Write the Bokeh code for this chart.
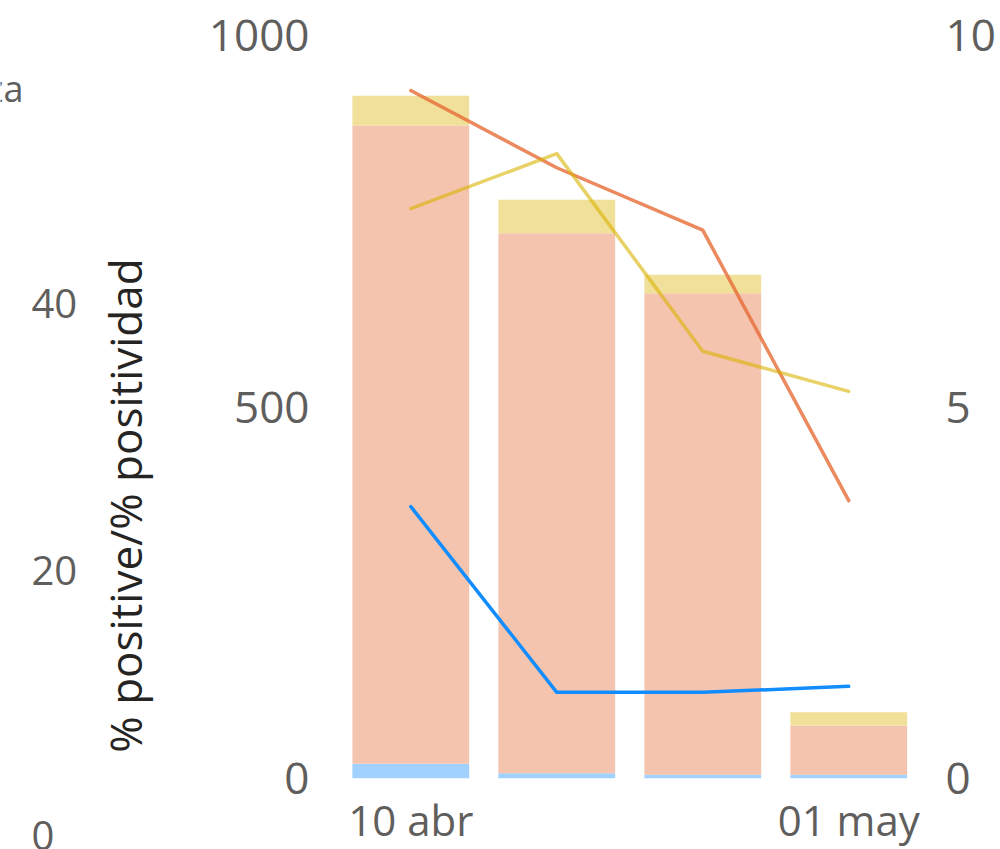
import math
from bokeh.plotting import figure
from bokeh.models import Range1d, LinearAxis, FixedTicker, ColumnDataSource
from bokeh.layouts import row, column
from bokeh.core.properties import value
from bokeh.embed import file_html
from bokeh.resources import INLINE

# ---------------- data ----------------
weeks = ["10 abr", "17 abr", "24 abr", "01 may"]
shown_weeks = ["10 abr", "01 may"]
bar_blue = [20, 7, 5, 5]
bar_salmon = [859, 727, 648, 66]
bar_yellow = [40, 45, 25, 18]
line_orange = [9.26, 8.22, 7.38, 3.74]
line_yellow = [7.67, 8.41, 5.75, 5.21]
line_blue = [3.66, 1.16, 1.16, 1.24]
left_ticks = [0, 20, 40]
mid_ticks = [0, 500, 1000]
right_ticks = [0, 5, 10]
left_title = "% positive/% positividad"
cut_text = "za"

FONT = "Open Sans"
TICK_COLOR = "#605E5C"
TITLE_COLOR = "#252423"

def clean(fig):
    fig.frame_align = False
    fig.outline_line_color = None
    fig.grid.visible = False
    fig.background_fill_color = "white"
    fig.border_fill_color = "white"

# ---------------- cut-off text at the top left ----------------
pt = figure(frame_width=80, frame_height=120, output_backend="svg", toolbar_location=None,
            x_range=Range1d(0, 80), y_range=Range1d(0, 120),
            x_axis_location=None, y_axis_location=None, min_border=0)
clean(pt)
pt.text(x=[23], y=[32], text=[cut_text], text_align="right", text_baseline="alphabetic",
        text_font=value(FONT), text_font_size="36px", text_color=TICK_COLOR)

# ---------------- left panel (only its right axis is visible) ----------------
pl = figure(frame_width=22, frame_height=666, output_backend="svg", toolbar_location=None,
            x_range=Range1d(0, 1), y_range=Range1d(0, 49.78),
            x_axis_location=None, y_axis_location="right",
            min_border_left=0, min_border_right=58,
            min_border_top=52, min_border_bottom=11)
clean(pl)
ya = pl.yaxis[0]
ya.ticker = FixedTicker(ticks=left_ticks)
ya.major_label_text_font = FONT
ya.major_label_text_font_size = "40px"
ya.major_label_text_color = TICK_COLOR
ya.major_label_standoff = 3
ya.major_tick_line_color = None
ya.minor_tick_line_color = None
ya.axis_line_color = None

# ---------------- title of the left axis ----------------
ptl = figure(frame_width=82, frame_height=849, output_backend="svg", toolbar_location=None,
             x_range=Range1d(0, 82), y_range=Range1d(0, 849),
             x_axis_location=None, y_axis_location=None, min_border=0)
clean(ptl)
ptl.text(x=[44], y=[344], text=[left_title], angle=math.pi / 2,
         text_align="center", text_baseline="alphabetic",
         text_font=value(FONT), text_font_size="44px", text_color=TITLE_COLOR)

# ---------------- main panel ----------------
x = list(range(len(weeks)))
src = ColumnDataSource(dict(x=x, blue=bar_blue, salmon=bar_salmon, yellow=bar_yellow,
                            lo=line_orange, ly=line_yellow, lb=line_blue))

p = figure(frame_width=600, frame_height=743, output_backend="svg", toolbar_location=None,
           x_range=Range1d(-0.55, 3.56), y_range=Range1d(0, 1000),
           min_border_left=168, min_border_right=70,
           min_border_top=35, min_border_bottom=71)
clean(p)
p.extra_y_ranges = {"r": Range1d(0, 10)}

p.vbar_stack(["blue", "salmon", "yellow"], x="x", width=0.8, source=src,
             fill_color=["#A0D1FF", "#F4C4AF", "#F0E099"], line_color=None)

p.line("x", "lo", source=src, y_range_name="r", line_color="#E66C37", line_alpha=0.8,
       line_width=3.5, line_cap="round", line_join="round")
p.line("x", "ly", source=src, y_range_name="r", line_color="#D9B300", line_alpha=0.6,
       line_width=3.5, line_cap="round", line_join="round")
p.line("x", "lb", source=src, y_range_name="r", line_color="#118DFF",
       line_width=3.5, line_cap="round", line_join="round")

ra = LinearAxis(y_range_name="r")
p.add_layout(ra, "right")

def style_axis(ax, ticks, standoff, size="44px"):
    ax.ticker = FixedTicker(ticks=ticks)
    ax.major_label_text_font = FONT
    ax.major_label_text_font_size = size
    ax.major_label_text_color = TICK_COLOR
    ax.major_label_standoff = standoff
    ax.major_tick_line_color = None
    ax.minor_tick_line_color = None
    ax.axis_line_color = None

style_axis(p.yaxis[0], mid_ticks, 15)
style_axis(ra, right_ticks, 9)
tick_pos = [weeks.index(w) for w in shown_weeks]
style_axis(p.xaxis[0], tick_pos, 6, "42px")
p.xaxis[0].major_label_overrides = {i: w for i, w in zip(tick_pos, shown_weeks)}

layout = row(column(pt, pl), ptl, p)
open("out.html", "w").write(file_html(layout, INLINE))
